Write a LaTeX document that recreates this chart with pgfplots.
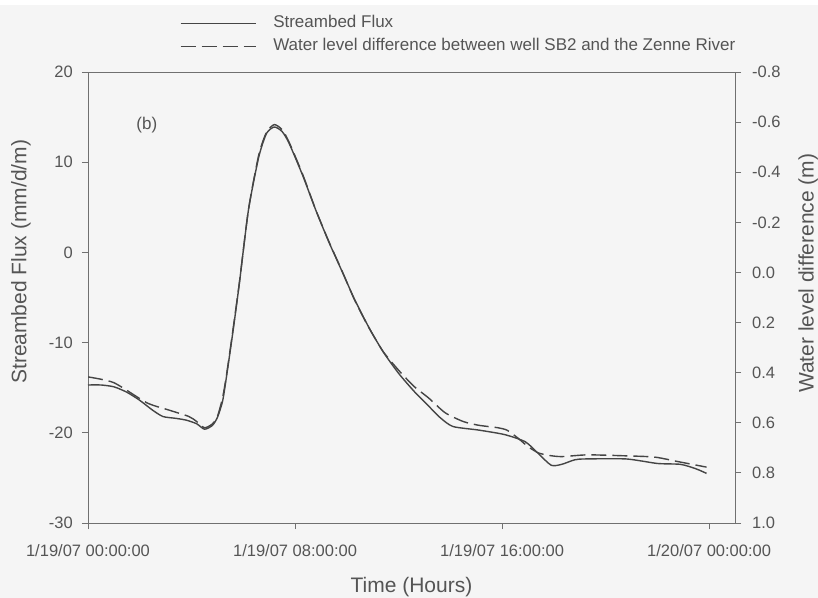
\documentclass[border=0pt]{standalone}
\usepackage{pgfplots}
\pgfplotsset{compat=1.18}
\usepackage{fontspec}
\setmainfont{Liberation Sans}
\definecolor{bg}{HTML}{F5F5F5}
\definecolor{txt}{HTML}{555555}
\definecolor{axc}{HTML}{707070}
\definecolor{ln}{HTML}{454545}
\begin{document}
\begin{tikzpicture}
\fill[bg] (-88bp,-75bp) rectangle (730bp,523bp);
\fill[white] (-88bp,518bp) rectangle (730bp,523bp);
\useasboundingbox (-88bp,-75bp) rectangle (730bp,523bp);
\begin{axis}[
  at={(0,0)}, anchor=south west,
  scale only axis, width=647bp, height=451bp,
  xmin=0, xmax=25, ymin=-30, ymax=20,
  xtick={0,8,16,24},
  xticklabels={1/19/07 00:00:00,1/19/07 08:00:00,1/19/07 16:00:00,1/20/07 00:00:00},
  ytick={-30,-20,-10,0,10,20},
  xtick pos=bottom, ytick pos=left,
  tick align=outside, major tick length=6bp,
  axis line style={axc, line width=0.9bp},
  every tick/.style={axc, line width=0.9bp},
  /pgf/number format/assume math mode=true,
  tick label style={font=\fontsize{16.5bp}{19bp}\selectfont, text=txt},
  yticklabel style={inner sep=0pt, xshift=-9bp},
  xticklabel style={inner sep=0pt, yshift=-15bp},
  xlabel={Time (Hours)},
  xlabel style={font=\fontsize{21bp}{24bp}\selectfont, text=txt, at={(axis description cs:0.5,-0.1415)}, anchor=center},
  ylabel={Streambed Flux (mm/d/m)},
  ylabel style={font=\fontsize{21bp}{24bp}\selectfont, text=txt, at={(axis description cs:-0.1036,0.579)}, anchor=center},
  legend style={at={(axis description cs:0.142,1.125)}, anchor=north west, draw=none, fill=none,
    font=\fontsize{17bp}{20bp}\selectfont, text=txt, inner sep=0pt, outer sep=0pt,
    nodes={inner sep=0pt, text height=12bp, text depth=4bp}, row sep=7bp, column sep=17bp},
  legend cell align=left,
  legend image code/.code={\draw[#1] (0bp,0bp) -- (75bp,0bp);},
]
\addplot[ln, line width=1.4bp, smooth, tension=0.4] coordinates {
(0,-14.7) (0.5,-14.7) (1,-14.9) (1.5,-15.5) (2,-16.4) (2.5,-17.5) (2.9,-18.2) (3.4,-18.4) (3.8,-18.6) (4.2,-19.0) (4.5,-19.6) (4.8,-19.2) (5.0,-18.3) (5.2,-16.5) (5.35,-13.8) (5.6,-8.8) (5.85,-3.4) (6.2,4.7) (6.6,10.6) (6.9,13.2) (7.2,13.9) (7.5,13.4) (7.77,12.1) (8.3,8.5) (8.8,4.7) (9.3,1.2) (9.8,-2.0) (10.3,-5.2) (10.85,-8.3) (11.4,-11.0) (12.0,-13.4) (12.6,-15.4) (13.15,-17.0) (13.6,-18.3) (14.1,-19.3) (15.1,-19.7) (16.1,-20.2) (16.9,-21.0) (17.4,-22.3) (17.9,-23.6) (18.3,-23.5) (18.8,-23.0) (19.2,-22.9) (20.8,-22.9) (22.0,-23.4) (22.9,-23.5) (23.5,-24.0) (23.9,-24.5)
};
\addlegendentry{Streambed Flux}
\addlegendimage{ln, line width=1.4bp, dash pattern=on 15bp off 6bp}
\addlegendentry{Water level difference between well SB2 and the Zenne River}
\node[font=\fontsize{17bp}{20bp}\selectfont, text=txt] at (axis description cs:0.091,0.882) {(b)};
\end{axis}
\begin{axis}[
  at={(0,0)}, anchor=south west,
  scale only axis, width=647bp, height=451bp,
  xmin=0, xmax=25, ymin=-0.8, ymax=1.0, y dir=reverse,
  axis x line=none, axis y line*=right,
  ytick={-0.8,-0.6,-0.4,-0.2,0,0.2,0.4,0.6,0.8,1.0},
  /pgf/number format/fixed, /pgf/number format/fixed zerofill, /pgf/number format/precision=1,
  tick align=outside, major tick length=6bp,
  axis line style={axc, line width=0.9bp, -},
  every tick/.style={axc, line width=0.9bp},
  /pgf/number format/assume math mode=true,
  tick label style={font=\fontsize{16.5bp}{19bp}\selectfont, text=txt},
  yticklabel style={inner sep=0pt, xshift=11bp},
  ylabel={Water level difference (m)},
  ylabel style={font=\fontsize{21bp}{24bp}\selectfont, text=txt, at={(axis description cs:1.113,0.554)}, anchor=center, rotate=0},
]
\addplot[ln, line width=1.4bp, dash pattern=on 15bp off 6bp, smooth, tension=0.4] coordinates {
(0,0.417) (1,0.44) (2.27,0.52) (3.15,0.55) (3.9,0.575) (4.2,0.595) (4.5,0.62) (4.8,0.605) (5.0,0.575) (5.2,0.50) (5.35,0.41) (5.6,0.23) (5.85,0.04) (6.2,-0.25) (6.6,-0.47) (6.9,-0.56) (7.2,-0.59) (7.5,-0.57) (7.77,-0.52) (8.3,-0.39) (8.8,-0.25) (9.3,-0.125) (9.8,-0.01) (10.3,0.11) (10.85,0.22) (11.4,0.315) (12.0,0.39) (12.6,0.455) (13.15,0.50) (13.8,0.56) (14.5,0.595) (15.1,0.61) (15.85,0.62) (16.2,0.63) (16.6,0.66) (17.0,0.695) (17.4,0.72) (17.8,0.73) (18.3,0.735) (19.3,0.728) (20.8,0.732) (21.9,0.737) (22.8,0.755) (23.9,0.777)
};
\end{axis}
\end{tikzpicture}
\end{document}
